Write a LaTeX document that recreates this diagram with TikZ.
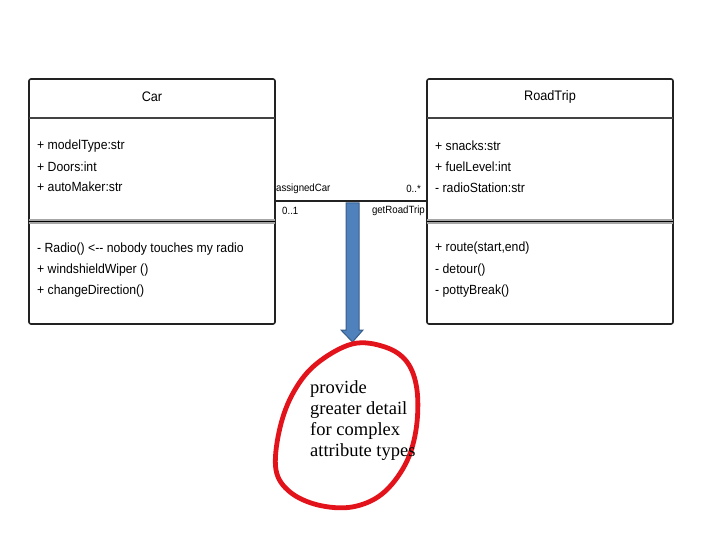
\documentclass[tikz,border=0pt]{standalone}
\usepackage{fontspec}
\setmainfont{Liberation Sans}[FakeStretch=0.92]
\newfontfamily\notefont{Liberation Serif}
\usetikzlibrary{calc}
\definecolor{boxline}{HTML}{222222}
\definecolor{arrowfill}{HTML}{4F81BD}
\definecolor{arrowline}{HTML}{385D8A}
\definecolor{penred}{HTML}{E3131B}
\tikzset{
  classbox/.style={draw=boxline, line width=1.6pt, rounded corners=2pt, fill=white},
  headsep/.style={draw=boxline!85, line width=2.4pt},
  sepband/.style={draw=black!35, line width=5pt},
  sepline/.style={draw=black, line width=1.2pt},
  member/.style={anchor=west, inner sep=0pt, font=\fontsize{13.3}{16}\selectfont},
  title/.style={anchor=center, inner sep=0pt, font=\fontsize{13.8}{16}\selectfont},
  rolelab/.style={inner sep=0pt, font=\fontsize{10.5}{12}\selectfont},
  assoc/.style={draw=boxline, line width=1.3pt},
  blockarrow/.style={fill=arrowfill, draw=arrowline, line width=1pt, line join=miter},
  pen/.style={draw=penred, line width=4.8pt, line cap=round, line join=round},
  note/.style={anchor=north west, align=left, inner sep=0pt, font=\notefont\fontsize{18.5}{21}\selectfont}
}
\begin{document}
\begin{tikzpicture}[x=1pt,y=-1pt]
\useasboundingbox (0,0) rectangle (720,540);
% Car class
\draw[classbox] (29,79) rectangle (275,324);
\coordinate (carW) at (29,201);
\coordinate (carE) at (275,201);
\draw[headsep] (29,118) -- (275,118);
\draw[sepband] (29,221.5) -- (275,221.5);
\draw[sepline] (29,221.5) -- (275,221.5);
\node[title] (cartitle) at (152,97) {Car};
\node[member] (c1) at (37,146) {+ modelType:str};
\node[member] (c2) at (37,167) {+ Doors:int};
\node[member] (c3) at (37,187) {+ autoMaker:str};
\node[member] (c4) at (37,249) {- Radio() <-\kern0pt- nobody touches my radio};
\node[member] (c5) at (37,270) {+ windshieldWiper ()};
\node[member] (c6) at (37,291) {+ changeDirection()};
% RoadTrip class
\draw[classbox] (427,79) rectangle (673,324);
\coordinate (rtW) at (427,201);
\draw[headsep] (427,118) -- (673,118);
\draw[sepband] (427,221.5) -- (673,221.5);
\draw[sepline] (427,221.5) -- (673,221.5);
\node[title] (rttitle) at (550,97) {RoadTrip};
\node[member] (r1) at (435,146) {+ snacks:str};
\node[member] (r2) at (435,167) {+ fuelLevel:int};
\node[member] (r3) at (435,188) {- radioStation:str};
\node[member] (r4) at (435,248) {+ route(start,end)};
\node[member] (r5) at (435,270) {- detour()};
\node[member] (r6) at (435,291) {- pottyBreak()};
% association
\draw[assoc] (carE) -- (rtW);
\node[rolelab, anchor=west] (l1) at (276,189) {assignedCar};
\node[rolelab, anchor=east] (l2) at (421,189) {0..*};
\node[rolelab, anchor=west] (l3) at (282,211) {0..1};
\node[rolelab, anchor=east] (l4) at (425,211) {getRoadTrip};
% block arrow
\draw[blockarrow] (346,203) -- (359,203) -- (359,330) -- (363,330) -- (352.5,342) -- (341,330) -- (346,330) -- cycle;
% red hand-drawn circle
\draw[pen] plot[smooth cycle, tension=0.6] coordinates {(352,344) (385,347) (407,362) (417,390) (416,430) (405,465) (382,494) (352,507) (318,505) (290,492) (276,470) (279,432) (292,395) (315,365)};
\node[note] (note) at (310,380) {provide\\greater detail\\for complex\\attribute types};
\end{tikzpicture}
\end{document}
